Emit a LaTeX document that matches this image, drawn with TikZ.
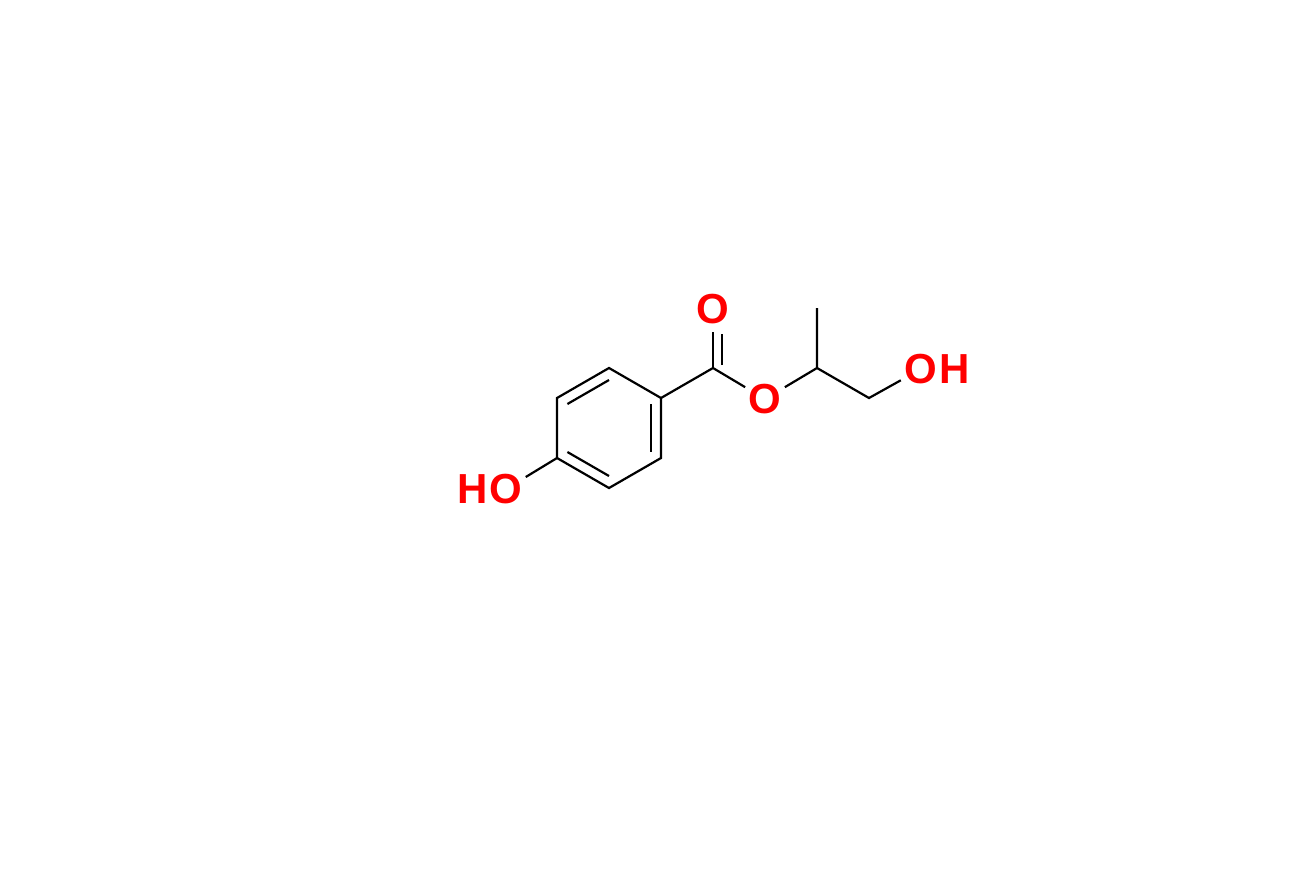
\documentclass[tikz,border=0pt]{standalone}
\usepackage{fontspec}
\setsansfont{Liberation Sans}
\usetikzlibrary{positioning,calc}

\begin{document}
\begin{tikzpicture}[x=0.5pt,y=-0.5pt,line width=1.1pt,
        atom/.style={circle,inner sep=0pt,text=red,font=\fontsize{21}{25}\selectfont\sffamily\bfseries},
        hyd/.style={inner sep=0pt,text=red,font=\fontsize{21}{25}\selectfont\sffamily\bfseries}]
        \useasboundingbox (0,0) rectangle (1315,895);
        \coordinate (ctr) at (609,428);
        \coordinate (c1) at (609,368);
        \coordinate (c2) at (661,398);
        \coordinate (c3) at (661,458);
        \coordinate (c4) at (609,488);
        \coordinate (c5) at (557,458);
        \coordinate (c6) at (557,398);
        \coordinate (c7) at (713,368);
        \coordinate (c8) at (817,368);
        \coordinate (c9) at (817,308);
        \coordinate (c10) at (869,398);
        \node[atom] (o1) at (713,309) {O};
        \node[atom] (o2) at (765,399) {O};
        \node[atom] (o3) at (921,369) {O};
        \node[hyd, right=-3pt of o3] (h3) {H};
        \node[atom] (o4) at (506,489) {O};
        \node[hyd, left=-3pt of o4] (h4) {H};
        \draw (c1) -- (c2) -- (c3) -- (c4) -- (c5) -- (c6) -- cycle;
        \draw ($(ctr)!0.8!(c6)$) -- ($(ctr)!0.8!(c1)$);
        \draw ($(ctr)!0.8!(c2)$) -- ($(ctr)!0.8!(c3)$);
        \draw ($(ctr)!0.8!(c4)$) -- ($(ctr)!0.8!(c5)$);
        \draw (c2) -- (c7) -- (o2) -- (c8) -- (c9);
        \draw (c7) -- (o1);
        \draw[shorten <=1.5pt] ([xshift=4.3pt]c7) -- ([xshift=4.3pt,yshift=-1pt]o1.south);
        \draw (c8) -- (c10) -- (o3);
        \draw (c5) -- (o4);
    \end{tikzpicture}
\end{document}
